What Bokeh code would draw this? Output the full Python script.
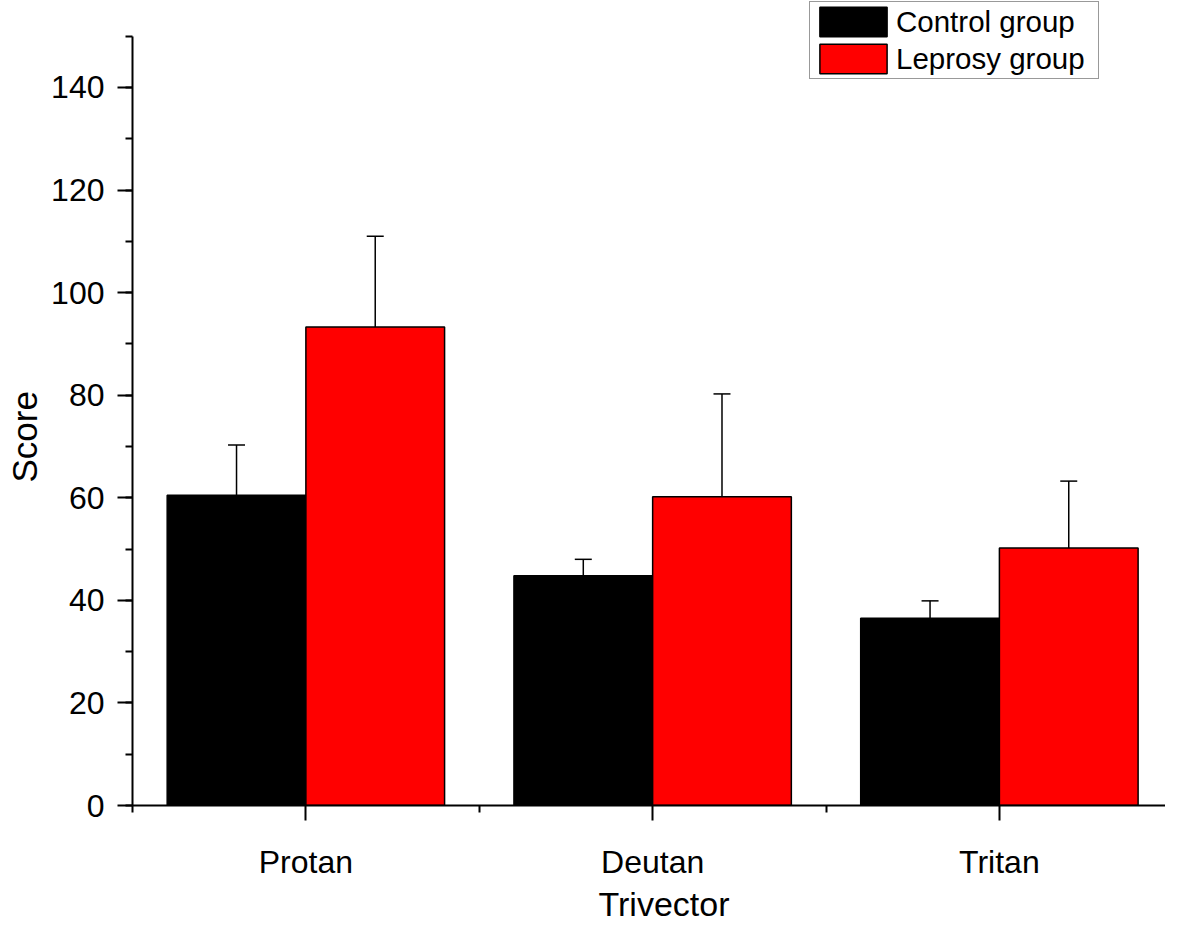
from bokeh.plotting import figure
from bokeh.models import (ColumnDataSource, FixedTicker, SingleIntervalTicker, Whisker,
                          TeeHead, Legend, LegendItem, Range1d, Title)
from bokeh.embed import file_html
from bokeh.resources import INLINE

categories = ["Protan", "Deutan", "Tritan"]
control_mean = [60.5, 44.8, 36.5]
control_err = [9.8, 3.2, 3.4]
leprosy_mean = [93.3, 60.2, 50.2]
leprosy_err = [17.7, 20.05, 13.05]
series_names = ["Control group", "Leprosy group"]
x_title = "Trivector"
y_title = "Score"

FONT = "Liberation Sans"
idx = [i + 1 for i in range(len(categories))]
bar_w = 0.4

p = figure(width=1165, height=924, output_backend="svg", toolbar_location=None,
           x_range=Range1d(0.5, 3.479), y_range=Range1d(0, 156.96),
           min_border_left=132, min_border_right=0, min_border_top=0,
           min_border_bottom=119)
p.outline_line_color = None
p.xgrid.visible = False
p.ygrid.visible = False

src_c = ColumnDataSource(dict(x=[i - bar_w / 2 for i in idx], top=control_mean,
                              upper=[m + e for m, e in zip(control_mean, control_err)],
                              lower=[m - e for m, e in zip(control_mean, control_err)]))
src_l = ColumnDataSource(dict(x=[i + bar_w / 2 for i in idx], top=leprosy_mean,
                              upper=[m + e for m, e in zip(leprosy_mean, leprosy_err)],
                              lower=[m - e for m, e in zip(leprosy_mean, leprosy_err)]))

r_c = p.vbar(x="x", top="top", width=bar_w, bottom=0, source=src_c,
             fill_color="black", line_color="black", line_width=1.5)
r_l = p.vbar(x="x", top="top", width=bar_w, bottom=0, source=src_l,
             fill_color="#ff0000", line_color="black", line_width=1.5)

for src in (src_c, src_l):
    w = Whisker(base="x", upper="upper", lower="lower", source=src,
                line_color="black", line_width=1.5,
                upper_head=TeeHead(size=17, line_color="black", line_width=1.5),
                lower_head=TeeHead(size=17, line_color="black", line_width=1.5))
    p.add_layout(w)

# axes
xa = p.xaxis[0]
xa.ticker = FixedTicker(ticks=idx, minor_ticks=[0.5, 1.5, 2.5, 3.5])
xa.major_label_overrides = {i: c for i, c in zip(idx, categories)}
xa.bounds = (0.5, 3.5)

ya = p.yaxis[0]
ya.ticker = SingleIntervalTicker(interval=20, num_minor_ticks=2)
ya.bounds = (0, 150)

for ax in (xa, ya):
    ax.axis_line_color = "black"
    ax.axis_line_width = 2
    ax.major_tick_line_color = "black"
    ax.major_tick_line_width = 2
    ax.minor_tick_line_color = "black"
    ax.minor_tick_line_width = 2
    ax.major_tick_out = 15
    ax.major_tick_in = 0
    ax.minor_tick_out = 7
    ax.minor_tick_in = 0
    ax.major_label_text_font = FONT
    ax.major_label_text_font_size = "32px"
    ax.major_label_text_color = "black"

xa.major_label_standoff = 23
ya.major_label_standoff = 13

# axis titles placed in the side panels
p.add_layout(Title(text=x_title, align="left", offset=466, standoff=0,
                   text_font=FONT, text_font_size="34px", text_font_style="normal",
                   text_color="black", vertical_align="bottom"), "below")
p.add_layout(Title(text=y_title, align="left", offset=323, standoff=6,
                   text_font=FONT, text_font_size="35px", text_font_style="normal",
                   text_color="black", vertical_align="top"), "left")

legend = Legend(items=[LegendItem(label=series_names[0], renderers=[r_c]),
                       LegendItem(label=series_names[1], renderers=[r_l])],
                location=(677, 726), orientation="vertical")
legend.label_text_font = FONT
legend.label_text_font_size = "29.5px"
legend.label_text_color = "black"
legend.glyph_width = 84
legend.glyph_height = 37
legend.label_standoff = 1
legend.label_width = 201
legend.padding = 1
legend.spacing = 0
legend.margin = 0
legend.border_line_color = "#333333"
legend.border_line_width = 1.5
legend.background_fill_alpha = 1
p.add_layout(legend, "center")

open("out.html", "w").write(file_html(p, INLINE))
